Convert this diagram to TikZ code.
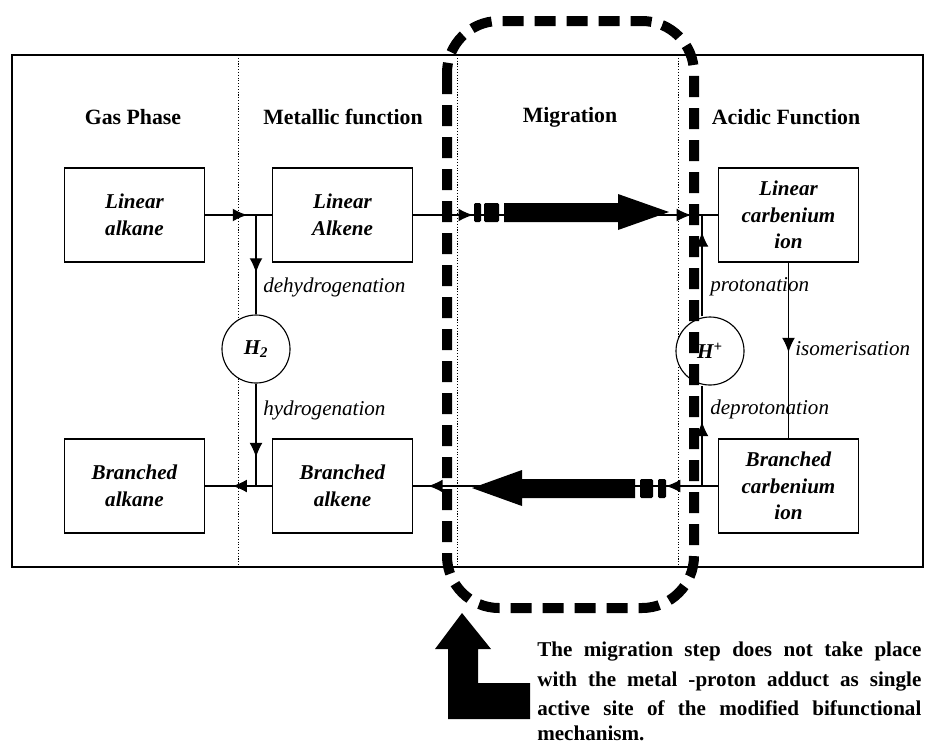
\documentclass[tikz,border=0pt]{standalone}
\usepackage{fontspec}
\setmainfont{Liberation Serif}
\usetikzlibrary{arrows.meta,decorations.markings}

\tikzset{
    midtip/.style={postaction={decorate},
        decoration={markings, mark=at position #1 with {\arrow{Latex[length=3.6mm,width=3.2mm]}}}},
    twotips/.style 2 args={postaction={decorate},
        decoration={markings,
            mark=at position #1 with {\arrow{Latex[length=3.6mm,width=3.2mm]}},
            mark=at position #2 with {\arrow{Latex[length=3.6mm,width=3.2mm]}}}},
}

\begin{document}
\begin{tikzpicture}[x=0.025cm, y=-0.025cm, font=\fontsize{15}{19}\selectfont]
    \useasboundingbox (0,0) rectangle (926,746);

    \draw[line width=1pt] (12,55) rectangle (923,567);
    \foreach \x in {238,457,678}
        \draw[line width=0.6pt, dash pattern=on 0.8pt off 1.2pt] (\x,55) -- (\x,567);

    \begin{scope}[every node/.style={font=\fontsize{15.5}{19}\selectfont\bfseries}]
        \node (gas) at (133,117) {Gas Phase};
        \node (metal) at (343,117) {Metallic function};
        \node (migr) at (570,117) {Migration};
        \node (acid) at (786,117) {Acidic Function};
    \end{scope}

    \begin{scope}[every node/.style={draw, line width=1pt, minimum width=3.5cm, minimum height=2.35cm, align=center, inner sep=2pt, font=\fontsize{15}{19}\selectfont\bfseries\itshape}]
        \node (lalk) at (134.5,215) {Linear\\alkane};
        \node (lalke) at (342.5,215) {Linear\\Alkene};
        \node (lcarb) at (788.5,215) {Linear\\carbenium\\ion};
        \node (balk) at (134.5,486) {Branched\\alkane};
        \node (balke) at (342.5,486) {Branched\\alkene};
        \node (bcarb) at (788.5,486) {Branched\\carbenium\\ion};
    \end{scope}

    \begin{scope}[every node/.style={circle, fill=white, draw, line width=0.8pt, minimum size=1.7cm, inner sep=0pt, font=\fontsize{15}{19}\selectfont\bfseries\itshape}]
        \node (htwo) at (256,349) {H\textsubscript{2}};
        \node (hplus) at (710,351) {H\textsuperscript{+}};
    \end{scope}

    \coordinate (dehy) at (256,215);
    \coordinate (hydr) at (256,486);
    \coordinate (prot) at (702,215);
    \coordinate (depr) at (702,486);

    \begin{scope}[every edge/.style={draw, line width=0.8pt}]
        \path (lalk) edge[midtip=0.63] (lalke);
        \path (dehy) edge[midtip=0.58] (htwo);
        \path (htwo) edge[midtip=0.72] (hydr);
        \path (balke) edge[midtip=0.59] (balk);
        \path (lalke) edge[twotips={0.196}{0.912}] (lcarb);
        \path (bcarb) edge[twotips={0.17}{0.951}] (balke);
        \path (depr) edge[midtip=0.64] (depr |- hplus.south);
        \path (prot |- hplus.north) edge[midtip=0.83] (prot);
        \path (lcarb) edge[midtip=0.51] (bcarb);
    \end{scope}

    \begin{scope}[every node/.style={anchor=west, inner sep=0pt, font=\fontsize{15}{19}\selectfont\itshape}]
        \node (dehytxt) at (263,287) {dehydrogenation};
        \node (hydrtxt) at (263,410) {hydrogenation};
        \node (prottxt) at (710,287) {protonation};
        \node (deprtxt) at (710,409) {deprotonation};
        \node (isomtxt) at (795,349) {isomerisation};
    \end{scope}

    % migration arrows
    \fill[rounded corners=1pt] (474,203) rectangle (481,222);
    \fill[rounded corners=1pt] (484,203) rectangle (499,222);
    \fill (504,203) -- (618,203) -- (618,194) -- (669,212) -- (618,230) -- (618,222) -- (504,222) -- cycle;
    \fill[rounded corners=1pt] (658,479) rectangle (666,498);
    \fill[rounded corners=1pt] (640,479) rectangle (653,498);
    \fill (635,479) -- (522,479) -- (522,470) -- (472,488) -- (522,506) -- (522,498) -- (635,498) -- cycle;

    \draw[line width=0.25cm, dash pattern=on 0.525cm off 0.275cm, rounded corners=1.3cm] (447,21) rectangle (694,608);

    \fill (462,613) -- (491,649) -- (478,649) -- (478,683) -- (530,683) -- (530,719) -- (448,719) -- (448,649) -- (435,649) -- cycle;

    \begin{scope}[every node/.style={anchor=base west, inner sep=0pt, font=\fontsize{15}{19}\selectfont\bfseries}]
        \node (note1) at (537,656) {\makebox[9.6cm][s]{The migration step does not take place}};
        \node (note2) at (537,686) {\makebox[9.6cm][s]{with the metal -proton adduct as single}};
        \node (note3) at (537,715) {\makebox[9.6cm][s]{active site of the modified bifunctional}};
        \node (note4) at (537,740) {mechanism.};
    \end{scope}
\end{tikzpicture}
\end{document}
